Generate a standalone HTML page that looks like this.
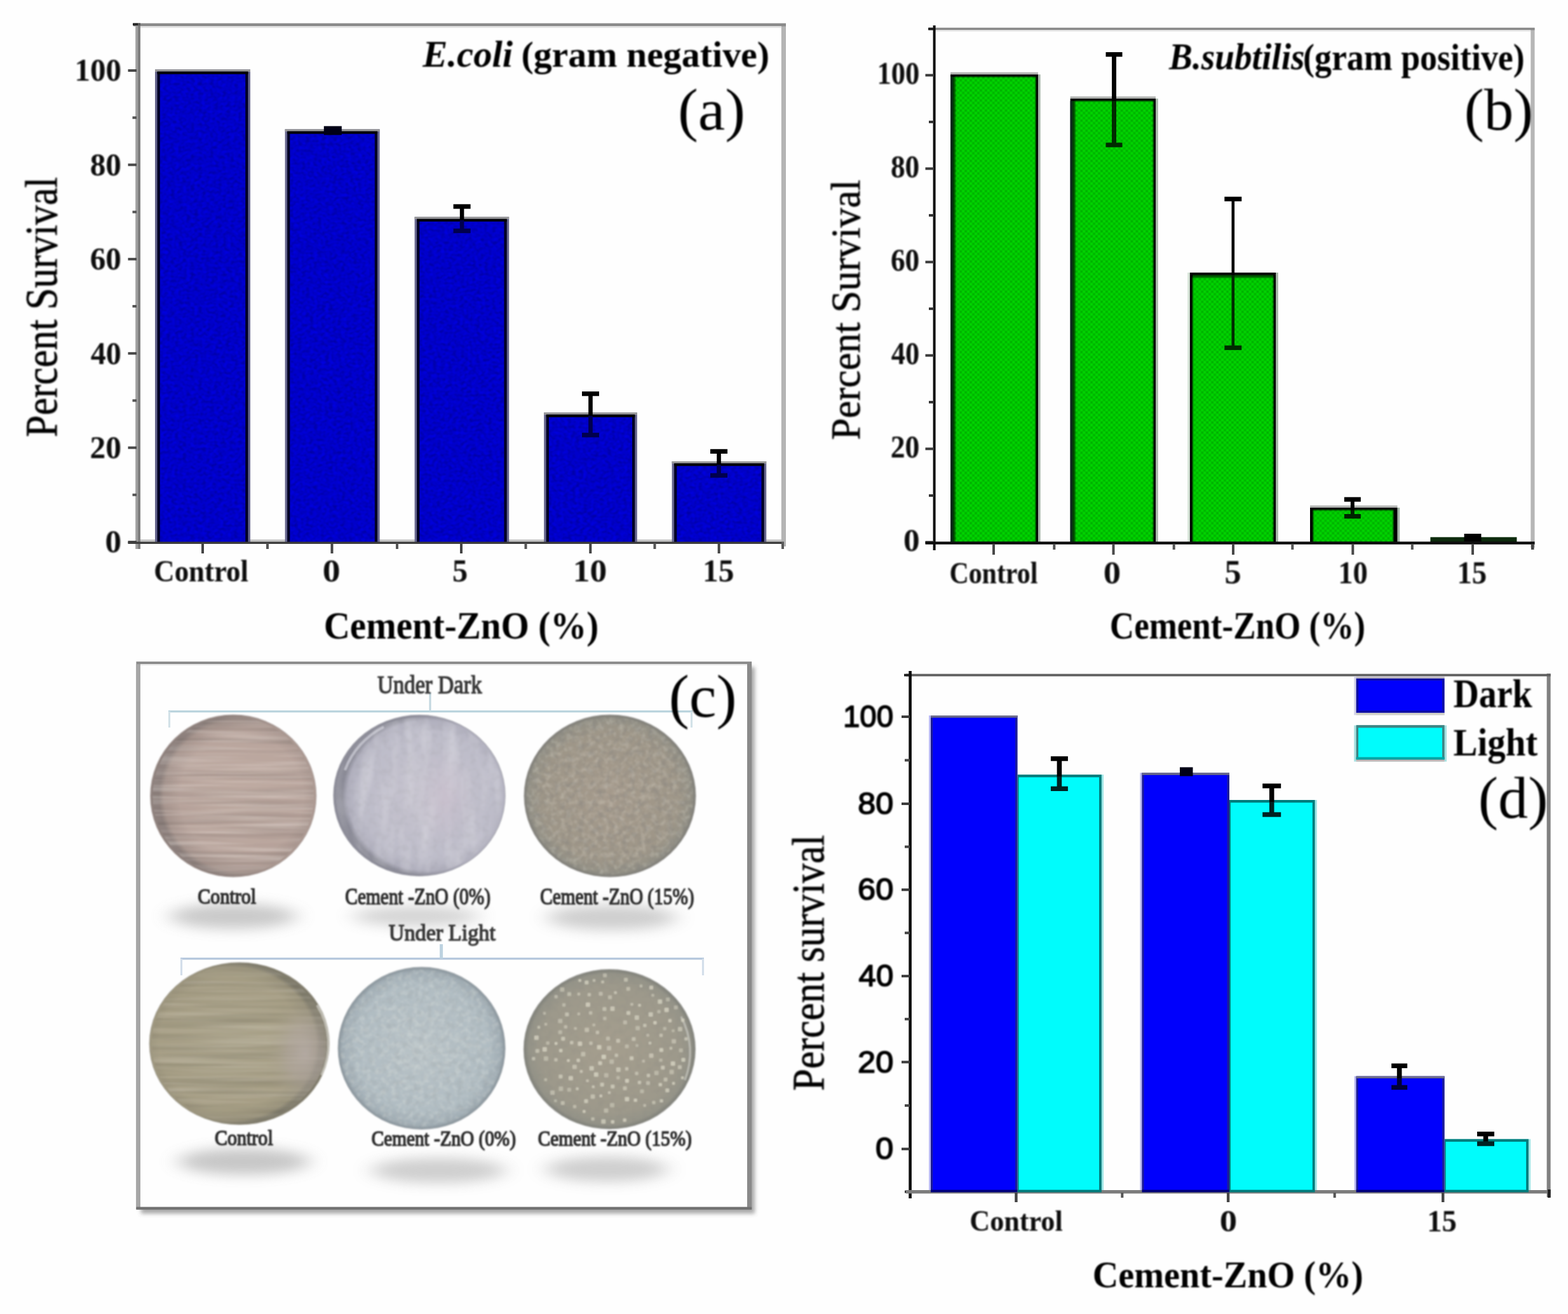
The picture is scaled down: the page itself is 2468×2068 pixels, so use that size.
<!DOCTYPE html>
<html lang="en"><head><meta charset="utf-8"><title>Antibacterial activity of Cement-ZnO</title>
<style>
html,body{margin:0;padding:0;background:#fff;}
body{width:2468px;height:2068px;overflow:hidden;}
svg{display:block;}
text{white-space:pre;}
</style></head>
<body>
<svg width="2468" height="2068" viewBox="0 0 2468 2068">
<defs>
<filter id="soft" x="0" y="0" width="100%" height="100%" filterUnits="userSpaceOnUse"><feGaussianBlur stdDeviation="0.6"/></filter>
<filter id="softT" x="0" y="0" width="100%" height="100%" filterUnits="userSpaceOnUse"><feGaussianBlur stdDeviation="1.0"/></filter>
<filter id="softD" x="0" y="0" width="100%" height="100%" filterUnits="userSpaceOnUse"><feGaussianBlur stdDeviation="1.0"/></filter>
<filter id="soft2" x="0" y="0" width="100%" height="100%" filterUnits="userSpaceOnUse"><feGaussianBlur stdDeviation="0.85"/></filter>
<pattern id="hatch" width="7.92" height="7.92" patternUnits="userSpaceOnUse" x="1530" y="401.7">
  <rect width="7.92" height="7.92" fill="#00e000"/>
  <rect x="3.96" y="0" width="3.96" height="3.96" fill="#00a400"/>
  <rect x="0" y="3.96" width="3.96" height="3.96" fill="#00a800"/>
</pattern>
<filter id="shadow" x="-40%" y="-100%" width="180%" height="300%"><feGaussianBlur stdDeviation="16 10"/></filter>
<filter id="fshadow" x="-5%" y="-5%" width="110%" height="110%"><feGaussianBlur stdDeviation="3.2"/></filter>
<filter id="nzH" x="0" y="0" width="100%" height="100%">
  <feTurbulence type="fractalNoise" baseFrequency="0.004 0.11" numOctaves="2" seed="3" result="n"/>
  <feColorMatrix in="n" type="matrix" values="0 0 0 0 0  0 0 0 0 0  0 0 0 0 0  1.6 0 0 0 -0.62"/>
  <feComposite in2="SourceGraphic" operator="in"/>
</filter>
<filter id="nzHl" x="0" y="0" width="100%" height="100%">
  <feTurbulence type="fractalNoise" baseFrequency="0.006 0.16" numOctaves="2" seed="21" result="n"/>
  <feColorMatrix in="n" type="matrix" values="0 0 0 0 1  0 0 0 0 0.96  0 0 0 0 0.92  1.8 0 0 0 -0.72"/>
  <feComposite in2="SourceGraphic" operator="in"/>
</filter>
<radialGradient id="g2p" cx="0.5" cy="0.5" r="0.5"><stop offset="0" stop-color="#c9bccb" stop-opacity="0.7"/><stop offset="1" stop-color="#c0b8c8" stop-opacity="0"/></radialGradient>
<filter id="nzB" x="0" y="0" width="100%" height="100%">
  <feTurbulence type="fractalNoise" baseFrequency="0.16 0.2" numOctaves="1" seed="4" result="n"/>
  <feColorMatrix in="n" type="matrix" values="0 0 0 0 0  0 0 0 0 0  0 0 0 0 0.25  2.6 0 0 0 -1.05"/>
  <feComposite in2="SourceGraphic" operator="in"/>
</filter>
<filter id="nzBl" x="0" y="0" width="100%" height="100%">
  <feTurbulence type="fractalNoise" baseFrequency="0.17 0.19" numOctaves="1" seed="19" result="n"/>
  <feColorMatrix in="n" type="matrix" values="0 0 0 0 0  0 0 0 0 0  0 0 0 0 1  2.6 0 0 0 -1.1"/>
  <feComposite in2="SourceGraphic" operator="in"/>
</filter>
<filter id="nzV" x="0" y="0" width="100%" height="100%">
  <feTurbulence type="fractalNoise" baseFrequency="0.05 0.012" numOctaves="2" seed="8" result="n"/>
  <feColorMatrix in="n" type="matrix" values="0 0 0 0 1  0 0 0 0 1  0 0 0 0 1  1.8 0 0 0 -0.7"/>
  <feComposite in2="SourceGraphic" operator="in"/>
</filter>
<filter id="nzF" x="0" y="0" width="100%" height="100%">
  <feTurbulence type="fractalNoise" baseFrequency="0.12" numOctaves="2" seed="5" result="n"/>
  <feColorMatrix in="n" type="matrix" values="0 0 0 0 1  0 0 0 0 1  0 0 0 0 0.9  2.4 0 0 0 -1.0"/>
  <feComposite in2="SourceGraphic" operator="in"/>
</filter>
<filter id="nzFd" x="0" y="0" width="100%" height="100%">
  <feTurbulence type="fractalNoise" baseFrequency="0.1" numOctaves="2" seed="11" result="n"/>
  <feColorMatrix in="n" type="matrix" values="0 0 0 0 0.2  0 0 0 0 0.2  0 0 0 0 0.2  2.2 0 0 0 -0.95"/>
  <feComposite in2="SourceGraphic" operator="in"/>
</filter>
<radialGradient id="g1" cx="0.55" cy="0.5" r="0.5"><stop offset="0" stop-color="#c0aca3"/><stop offset="0.75" stop-color="#b9a59d"/><stop offset="0.94" stop-color="#a8968f"/><stop offset="1" stop-color="#8e817d"/></radialGradient>
<radialGradient id="g2" cx="0.55" cy="0.5" r="0.5"><stop offset="0" stop-color="#c7c4cf"/><stop offset="0.8" stop-color="#bdbcc9"/><stop offset="0.94" stop-color="#b0afbd"/><stop offset="1" stop-color="#8c8c98"/></radialGradient>
<radialGradient id="g3" cx="0.5" cy="0.5" r="0.5"><stop offset="0" stop-color="#a59a8c"/><stop offset="0.8" stop-color="#9e9688"/><stop offset="0.95" stop-color="#949186"/><stop offset="1" stop-color="#7f7e78"/></radialGradient>
<radialGradient id="g4" cx="0.45" cy="0.5" r="0.5"><stop offset="0" stop-color="#aaa38b"/><stop offset="0.8" stop-color="#a69e85"/><stop offset="0.95" stop-color="#9a937c"/><stop offset="1" stop-color="#807c6c"/></radialGradient>
<radialGradient id="g5" cx="0.5" cy="0.5" r="0.5"><stop offset="0" stop-color="#b9c3c7"/><stop offset="0.8" stop-color="#b0bcc2"/><stop offset="0.95" stop-color="#a2aeb5"/><stop offset="1" stop-color="#8a959c"/></radialGradient>
<radialGradient id="g6" cx="0.5" cy="0.5" r="0.5"><stop offset="0" stop-color="#a59e8e"/><stop offset="0.8" stop-color="#9d998b"/><stop offset="0.95" stop-color="#949388"/><stop offset="1" stop-color="#7f8079"/></radialGradient>
<radialGradient id="g4p" cx="0.55" cy="0.5" r="0.5"><stop offset="0" stop-color="#b6aca8" stop-opacity="0.9"/><stop offset="0.45" stop-color="#b0a6a0" stop-opacity="0.6"/><stop offset="1" stop-color="#a69f88" stop-opacity="0"/></radialGradient>
</defs>
<rect width="2468" height="2068" fill="#fefefe"/>
<g filter="url(#soft)">
<rect x="1229.80" y="37.00" width="7.20" height="823.00" fill="#b4b4b4"/>
<rect x="210.00" y="36.60" width="1027.00" height="4.80" fill="#8a8a8a"/>
<rect x="221.00" y="41.40" width="1009.00" height="2.60" fill="#e4e4e4"/>
<rect x="213.20" y="36.60" width="3.80" height="827.40" fill="#a0a0a0"/>
<rect x="217.00" y="36.60" width="4.00" height="827.40" fill="#7e7e7e"/>
<rect x="201.50" y="851.00" width="13.50" height="4.00" fill="#4a4a4a"/>
<rect x="201.50" y="702.60" width="13.50" height="4.00" fill="#4a4a4a"/>
<rect x="201.50" y="554.20" width="13.50" height="4.00" fill="#4a4a4a"/>
<rect x="201.50" y="405.80" width="13.50" height="4.00" fill="#4a4a4a"/>
<rect x="201.50" y="257.40" width="13.50" height="4.00" fill="#4a4a4a"/>
<rect x="201.50" y="109.00" width="13.50" height="4.00" fill="#4a4a4a"/>
<rect x="208.50" y="776.80" width="6.50" height="4.00" fill="#555"/>
<rect x="208.50" y="628.40" width="6.50" height="4.00" fill="#555"/>
<rect x="208.50" y="480.00" width="6.50" height="4.00" fill="#555"/>
<rect x="208.50" y="331.60" width="6.50" height="4.00" fill="#555"/>
<rect x="208.50" y="183.20" width="6.50" height="4.00" fill="#555"/>
<rect x="209.00" y="36.40" width="8.00" height="3.80" fill="#262626"/>
<rect x="217.00" y="36.40" width="4.00" height="3.80" fill="#585858"/>
<rect x="221.00" y="849.00" width="1009.00" height="4.00" fill="#c6c6c6"/>
<rect x="244.00" y="109.30" width="150.00" height="743.70" fill="#66668e"/>
<rect x="244.00" y="109.30" width="150.00" height="3.60" fill="#9a9a9a"/>
<rect x="247.50" y="112.70" width="143.00" height="740.30" fill="#000028"/>
<rect x="247.50" y="112.70" width="143.00" height="4.00" fill="#000004"/>
<rect x="251.80" y="116.70" width="134.40" height="736.30" fill="#0000ca"/>
<rect x="252.0" y="117.3" width="134.0" height="735.7" fill="#000" opacity="0.5" filter="url(#nzB)"/>
<rect x="252.0" y="117.3" width="134.0" height="735.7" fill="#000" opacity="0.4" filter="url(#nzBl)"/>
<rect x="448.60" y="203.30" width="149.00" height="649.70" fill="#66668e"/>
<rect x="448.60" y="203.30" width="149.00" height="3.60" fill="#9a9a9a"/>
<rect x="452.10" y="206.70" width="142.00" height="646.30" fill="#000028"/>
<rect x="452.10" y="206.70" width="142.00" height="4.00" fill="#000004"/>
<rect x="456.40" y="210.70" width="133.40" height="642.30" fill="#0000ca"/>
<rect x="456.6" y="211.3" width="133.0" height="641.7" fill="#000" opacity="0.5" filter="url(#nzB)"/>
<rect x="456.6" y="211.3" width="133.0" height="641.7" fill="#000" opacity="0.4" filter="url(#nzBl)"/>
<rect x="652.60" y="341.30" width="148.60" height="511.70" fill="#66668e"/>
<rect x="652.60" y="341.30" width="148.60" height="3.60" fill="#9a9a9a"/>
<rect x="656.10" y="344.70" width="141.60" height="508.30" fill="#000028"/>
<rect x="656.10" y="344.70" width="141.60" height="4.00" fill="#000004"/>
<rect x="660.40" y="348.70" width="133.00" height="504.30" fill="#0000ca"/>
<rect x="660.6" y="349.3" width="132.6" height="503.7" fill="#000" opacity="0.5" filter="url(#nzB)"/>
<rect x="660.6" y="349.3" width="132.6" height="503.7" fill="#000" opacity="0.4" filter="url(#nzBl)"/>
<rect x="856.20" y="649.20" width="146.60" height="203.80" fill="#66668e"/>
<rect x="856.20" y="649.20" width="146.60" height="3.60" fill="#9a9a9a"/>
<rect x="859.70" y="652.60" width="139.60" height="200.40" fill="#000028"/>
<rect x="859.70" y="652.60" width="139.60" height="4.00" fill="#000004"/>
<rect x="864.00" y="656.60" width="131.00" height="196.40" fill="#0000ca"/>
<rect x="864.2" y="657.2" width="130.6" height="195.8" fill="#000" opacity="0.5" filter="url(#nzB)"/>
<rect x="864.2" y="657.2" width="130.6" height="195.8" fill="#000" opacity="0.4" filter="url(#nzBl)"/>
<rect x="1057.60" y="726.00" width="148.60" height="127.00" fill="#66668e"/>
<rect x="1057.60" y="726.00" width="148.60" height="3.60" fill="#9a9a9a"/>
<rect x="1061.10" y="729.40" width="141.60" height="123.60" fill="#000028"/>
<rect x="1061.10" y="729.40" width="141.60" height="4.00" fill="#000004"/>
<rect x="1065.40" y="733.40" width="133.00" height="119.60" fill="#0000ca"/>
<rect x="1065.6" y="734.0" width="132.6" height="119.0" fill="#000" opacity="0.5" filter="url(#nzB)"/>
<rect x="1065.6" y="734.0" width="132.6" height="119.0" fill="#000" opacity="0.4" filter="url(#nzBl)"/>
<rect x="201.50" y="852.60" width="1032.50" height="3.40" fill="#3c3c3c"/>
<rect x="317.00" y="855.00" width="4.00" height="16.00" fill="#444"/>
<rect x="520.50" y="855.00" width="4.00" height="16.00" fill="#444"/>
<rect x="724.00" y="855.00" width="4.00" height="16.00" fill="#444"/>
<rect x="927.30" y="855.00" width="4.00" height="16.00" fill="#444"/>
<rect x="1129.60" y="855.00" width="4.00" height="16.00" fill="#444"/>
<rect x="419.00" y="855.00" width="4.00" height="9.00" fill="#555"/>
<rect x="623.00" y="855.00" width="4.00" height="9.00" fill="#555"/>
<rect x="825.50" y="855.00" width="4.00" height="9.00" fill="#555"/>
<rect x="1028.50" y="855.00" width="4.00" height="9.00" fill="#555"/>
<rect x="1230.00" y="853.00" width="4.00" height="11.00" fill="#5a5a5a"/>
<rect x="509.80" y="198.50" width="28.00" height="14.00" fill="#000018"/>
<rect x="723.80" y="325.00" width="6.60" height="21.50" fill="#000"/>
<rect x="723.80" y="346.50" width="6.60" height="16.80" fill="#00004e"/>
<rect x="713.60" y="359.70" width="27.00" height="7.20" fill="#00004e"/>
<rect x="713.60" y="321.40" width="27.00" height="7.20" fill="#000"/>
<rect x="926.20" y="619.70" width="6.60" height="34.80" fill="#000"/>
<rect x="926.20" y="654.50" width="6.60" height="30.20" fill="#00004e"/>
<rect x="916.00" y="681.10" width="27.00" height="7.20" fill="#00004e"/>
<rect x="916.00" y="616.10" width="27.00" height="7.20" fill="#000"/>
<rect x="1128.20" y="710.40" width="6.60" height="21.10" fill="#000"/>
<rect x="1128.20" y="731.50" width="6.60" height="16.70" fill="#00004e"/>
<rect x="1118.00" y="744.60" width="27.00" height="7.20" fill="#00004e"/>
<rect x="1118.00" y="706.80" width="27.00" height="7.20" fill="#000"/>
<rect x="2409.30" y="44.00" width="6.20" height="818.00" fill="#b6b6b6"/>
<rect x="1462.00" y="43.60" width="953.50" height="3.80" fill="#888"/>
<rect x="1473.00" y="47.40" width="936.00" height="2.20" fill="#e6e6e6"/>
<rect x="1468.60" y="40.00" width="4.00" height="826.00" fill="#101010"/>
<rect x="1461.00" y="43.60" width="8.00" height="3.80" fill="#1c1c1c"/>
<rect x="1456.50" y="851.40" width="13.50" height="4.00" fill="#3a3a3a"/>
<rect x="1456.50" y="704.40" width="13.50" height="4.00" fill="#3a3a3a"/>
<rect x="1456.50" y="557.40" width="13.50" height="4.00" fill="#3a3a3a"/>
<rect x="1456.50" y="410.40" width="13.50" height="4.00" fill="#3a3a3a"/>
<rect x="1456.50" y="263.40" width="13.50" height="4.00" fill="#3a3a3a"/>
<rect x="1456.50" y="116.40" width="13.50" height="4.00" fill="#3a3a3a"/>
<rect x="1462.00" y="777.90" width="8.00" height="4.00" fill="#333"/>
<rect x="1462.00" y="630.90" width="8.00" height="4.00" fill="#333"/>
<rect x="1462.00" y="483.90" width="8.00" height="4.00" fill="#333"/>
<rect x="1462.00" y="336.90" width="8.00" height="4.00" fill="#333"/>
<rect x="1462.00" y="189.90" width="8.00" height="4.00" fill="#333"/>
<rect x="1496.00" y="113.70" width="137.90" height="3.50" fill="#b2b4b2"/>
<rect x="1633.90" y="117.20" width="3.70" height="736.20" fill="#a6b6a8"/>
<rect x="1496.00" y="117.20" width="137.90" height="736.20" fill="#000400"/>
<rect x="1499.40" y="121.00" width="3.80" height="732.40" fill="#004000"/>
<rect x="1496.00" y="121.00" width="3.40" height="732.40" fill="#0c2c1c"/>
<rect x="1684.60" y="151.70" width="134.40" height="3.50" fill="#b2b4b2"/>
<rect x="1819.00" y="155.20" width="3.70" height="698.20" fill="#a6b6a8"/>
<rect x="1684.60" y="155.20" width="134.40" height="698.20" fill="#000400"/>
<rect x="1688.00" y="159.00" width="3.90" height="694.40" fill="#004000"/>
<rect x="1684.60" y="159.00" width="3.40" height="694.40" fill="#0c2c1c"/>
<rect x="2008.10" y="429.00" width="3.70" height="424.40" fill="#a6b6a8"/>
<rect x="1869.20" y="429.00" width="3.70" height="424.40" fill="#d6e4d8"/>
<rect x="1872.90" y="429.00" width="135.20" height="424.40" fill="#000400"/>
<rect x="1877.20" y="432.80" width="127.00" height="3.60" fill="#004a00"/>
<rect x="2062.00" y="795.50" width="137.50" height="3.50" fill="#b2b4b2"/>
<rect x="2199.50" y="799.00" width="3.70" height="54.40" fill="#a6b6a8"/>
<rect x="2062.00" y="799.00" width="137.50" height="54.40" fill="#000400"/>
</g><g filter="url(#soft2)">
<rect x="1503.20" y="121.10" width="126.90" height="732.30" fill="url(#hatch)"/>
<rect x="1691.90" y="159.10" width="123.30" height="694.30" fill="url(#hatch)"/>
<rect x="1877.20" y="436.40" width="127.00" height="417.00" fill="url(#hatch)"/>
<rect x="2066.90" y="802.90" width="126.00" height="50.50" fill="url(#hatch)"/>
</g><g filter="url(#soft)">
<rect x="2251.40" y="845.40" width="136.00" height="7.60" fill="#0a2a0a"/>
<rect x="2304.60" y="840.00" width="26.80" height="14.00" fill="#000"/>
<rect x="1456.50" y="852.40" width="959.00" height="4.40" fill="#0c0c0c"/>
<rect x="1562.00" y="856.00" width="4.00" height="17.00" fill="#4a4a4a"/>
<rect x="1750.50" y="856.00" width="4.00" height="17.00" fill="#4a4a4a"/>
<rect x="1939.00" y="856.00" width="4.00" height="17.00" fill="#4a4a4a"/>
<rect x="2127.30" y="856.00" width="4.00" height="17.00" fill="#4a4a4a"/>
<rect x="2316.00" y="856.00" width="4.00" height="17.00" fill="#4a4a4a"/>
<rect x="1657.30" y="856.00" width="4.00" height="9.00" fill="#555"/>
<rect x="1845.70" y="856.00" width="4.00" height="9.00" fill="#555"/>
<rect x="2032.30" y="856.00" width="4.00" height="9.00" fill="#555"/>
<rect x="2220.80" y="856.00" width="4.00" height="9.00" fill="#555"/>
<rect x="2410.00" y="856.00" width="4.50" height="9.00" fill="#444"/>
<rect x="1750.00" y="85.70" width="7.00" height="73.30" fill="#000"/>
<rect x="1750.00" y="159.00" width="7.00" height="69.10" fill="#002c00"/>
<rect x="1740.50" y="224.50" width="26.00" height="7.20" fill="#002c00"/>
<rect x="1740.50" y="82.10" width="26.00" height="7.20" fill="#000"/>
<rect x="1938.50" y="313.20" width="4.60" height="119.80" fill="#000"/>
<rect x="1938.50" y="433.00" width="4.60" height="114.30" fill="#002c00"/>
<rect x="1927.30" y="543.70" width="27.00" height="7.20" fill="#002c00"/>
<rect x="1927.30" y="309.60" width="27.00" height="7.20" fill="#000"/>
<rect x="2125.80" y="786.00" width="6.00" height="17.00" fill="#000"/>
<rect x="2125.80" y="803.00" width="6.00" height="9.60" fill="#002400"/>
<rect x="2115.80" y="809.00" width="26.00" height="7.20" fill="#002400"/>
<rect x="2115.80" y="782.40" width="26.00" height="7.20" fill="#000"/>
<rect x="2434.60" y="1060.00" width="6.00" height="824.00" fill="#808080"/>
<rect x="1426.00" y="1060.60" width="1014.60" height="3.80" fill="#5e5e5e"/>
<rect x="1430.30" y="1056.00" width="4.60" height="830.00" fill="#0c0c0c"/>
<rect x="1423.00" y="1060.60" width="8.00" height="3.80" fill="#1c1c1c"/>
<rect x="1419.00" y="1806.30" width="13.00" height="4.00" fill="#3a3a3a"/>
<rect x="1419.00" y="1669.50" width="13.00" height="4.00" fill="#3a3a3a"/>
<rect x="1419.00" y="1534.20" width="13.00" height="4.00" fill="#3a3a3a"/>
<rect x="1419.00" y="1398.30" width="13.00" height="4.00" fill="#3a3a3a"/>
<rect x="1419.00" y="1263.00" width="13.00" height="4.00" fill="#3a3a3a"/>
<rect x="1419.00" y="1126.00" width="13.00" height="4.00" fill="#3a3a3a"/>
<rect x="1424.00" y="1737.90" width="8.00" height="4.00" fill="#444"/>
<rect x="1424.00" y="1601.85" width="8.00" height="4.00" fill="#444"/>
<rect x="1424.00" y="1466.25" width="8.00" height="4.00" fill="#444"/>
<rect x="1424.00" y="1330.65" width="8.00" height="4.00" fill="#444"/>
<rect x="1424.00" y="1194.50" width="8.00" height="4.00" fill="#444"/>
<rect x="1424.00" y="1873.60" width="8.00" height="4.00" fill="#333"/>
<rect x="1601.50" y="1219.10" width="135.50" height="656.50" fill="#9fe6e6"/>
<rect x="1601.50" y="1219.10" width="132.30" height="656.50" fill="#067c7c"/>
<rect x="1603.50" y="1223.30" width="126.50" height="652.30" fill="#00fcfc"/>
<rect x="1935.00" y="1259.00" width="137.80" height="616.60" fill="#9fe6e6"/>
<rect x="1935.00" y="1259.00" width="134.60" height="616.60" fill="#067c7c"/>
<rect x="1937.00" y="1263.20" width="128.80" height="612.40" fill="#00fcfc"/>
<rect x="2273.60" y="1792.70" width="135.50" height="82.90" fill="#9fe6e6"/>
<rect x="2273.60" y="1792.70" width="132.30" height="82.90" fill="#067c7c"/>
<rect x="2275.60" y="1796.90" width="126.50" height="78.70" fill="#00fcfc"/>
<rect x="1462.00" y="1126.00" width="139.50" height="749.60" fill="#b9b9f3"/>
<rect x="1465.00" y="1126.00" width="136.50" height="749.60" fill="#1a1a96"/>
<rect x="1468.00" y="1129.60" width="130.10" height="746.00" fill="#0000fc"/>
<rect x="1465.00" y="1126.00" width="136.50" height="3.40" fill="#6d6d8c"/>
<rect x="1794.40" y="1216.20" width="140.60" height="659.40" fill="#b9b9f3"/>
<rect x="1797.40" y="1216.20" width="137.60" height="659.40" fill="#1a1a96"/>
<rect x="1800.40" y="1219.80" width="131.20" height="655.80" fill="#0000fc"/>
<rect x="1797.40" y="1216.20" width="137.60" height="3.40" fill="#6d6d8c"/>
<rect x="2131.60" y="1693.70" width="142.00" height="181.90" fill="#b9b9f3"/>
<rect x="2134.60" y="1693.70" width="139.00" height="181.90" fill="#1a1a96"/>
<rect x="2137.60" y="1697.30" width="132.60" height="178.30" fill="#0000fc"/>
<rect x="2134.60" y="1693.70" width="139.00" height="3.40" fill="#6d6d8c"/>
<rect x="1426.00" y="1873.00" width="1014.60" height="5.40" fill="#7c7c7c"/>
<rect x="1465.00" y="1872.60" width="136.50" height="3.80" fill="#00007a"/>
<rect x="1797.40" y="1872.60" width="137.60" height="3.80" fill="#00007a"/>
<rect x="2134.60" y="1872.60" width="139.00" height="3.80" fill="#00007a"/>
<rect x="1601.50" y="1872.60" width="132.30" height="3.80" fill="#007a7a"/>
<rect x="1935.00" y="1872.60" width="134.60" height="3.80" fill="#007a7a"/>
<rect x="2273.60" y="1872.60" width="132.30" height="3.80" fill="#007a7a"/>
<rect x="1597.20" y="1877.00" width="4.40" height="15.00" fill="#444"/>
<rect x="1930.90" y="1877.00" width="4.40" height="15.00" fill="#444"/>
<rect x="2269.00" y="1877.00" width="4.40" height="15.00" fill="#444"/>
<rect x="1764.30" y="1877.00" width="4.00" height="8.00" fill="#555"/>
<rect x="2098.70" y="1877.00" width="4.00" height="8.00" fill="#555"/>
<rect x="2436.00" y="1872.00" width="4.60" height="13.00" fill="#222"/>
<rect x="1663.60" y="1194.00" width="7.60" height="28.00" fill="#000"/>
<rect x="1663.60" y="1222.00" width="7.60" height="19.30" fill="#002020"/>
<rect x="1653.90" y="1237.60" width="27.00" height="7.40" fill="#002020"/>
<rect x="1653.90" y="1190.30" width="27.00" height="7.40" fill="#000"/>
<rect x="1857.00" y="1207.50" width="20.50" height="14.00" fill="#000014"/>
<rect x="1997.90" y="1236.90" width="7.60" height="25.10" fill="#000"/>
<rect x="1997.90" y="1262.00" width="7.60" height="20.00" fill="#002020"/>
<rect x="1987.20" y="1278.30" width="29.00" height="7.40" fill="#002020"/>
<rect x="1987.20" y="1233.20" width="29.00" height="7.40" fill="#000"/>
<rect x="2198.80" y="1677.40" width="7.60" height="19.60" fill="#000"/>
<rect x="2198.80" y="1697.00" width="7.60" height="14.40" fill="#000038"/>
<rect x="2190.10" y="1707.70" width="25.00" height="7.40" fill="#000038"/>
<rect x="2190.10" y="1673.70" width="25.00" height="7.40" fill="#000"/>
<rect x="2334.70" y="1784.70" width="7.60" height="11.30" fill="#000"/>
<rect x="2334.70" y="1796.00" width="7.60" height="4.00" fill="#002020"/>
<rect x="2325.00" y="1796.30" width="27.00" height="7.40" fill="#002020"/>
<rect x="2325.00" y="1781.00" width="27.00" height="7.40" fill="#000"/>
<rect x="2131.20" y="1064.60" width="142.40" height="60.80" fill="#d4d4ea"/>
<rect x="2134.60" y="1064.60" width="139.00" height="3.40" fill="#c0bcc4"/>
<rect x="2134.60" y="1121.60" width="139.00" height="3.80" fill="#d2d2c8"/>
<rect x="2134.60" y="1067.80" width="139.00" height="54.00" fill="#0a0aa4"/>
<rect x="2138.20" y="1071.00" width="131.80" height="47.20" fill="#0000fc"/>
<rect x="2131.20" y="1141.60" width="145.80" height="57.00" fill="#a8e2e2"/>
<rect x="2134.60" y="1195.00" width="139.00" height="3.60" fill="#c6b8b8"/>
<rect x="2134.60" y="1141.20" width="139.00" height="54.20" fill="#3c8484"/>
<rect x="2134.60" y="1191.40" width="139.00" height="4.00" fill="#00a4a4"/>
<rect x="2138.00" y="1145.40" width="132.00" height="46.20" fill="#00fcfc"/>
<rect x="222" y="1050" width="966" height="860" fill="#8c8c8c" opacity="0.75" filter="url(#fshadow)"/>
<rect x="214.40" y="1041.20" width="968.80" height="862.40" fill="#8a8a8a"/>
<rect x="214.40" y="1045.20" width="6.60" height="854.40" fill="#a6a6a6"/>
<rect x="214.40" y="1899.60" width="968.80" height="4.00" fill="#707070"/>
<rect x="221.00" y="1045.20" width="955.00" height="854.20" fill="#fefefe"/>
<rect x="221.00" y="1045.20" width="955.00" height="2.00" fill="#e6e6e6"/>
<rect x="265.00" y="1118.10" width="825.00" height="3.20" fill="#b9d3dd"/>
<rect x="264.90" y="1119.70" width="3.20" height="25.30" fill="#d3e2e8"/>
<rect x="1086.90" y="1119.70" width="3.20" height="25.30" fill="#d3e2e8"/>
<rect x="675.40" y="1090.00" width="3.20" height="29.70" fill="#c3d8e0"/>
<rect x="284.00" y="1507.20" width="824.00" height="3.20" fill="#b4c6dc"/>
<rect x="283.90" y="1508.80" width="3.20" height="26.20" fill="#d3deea"/>
<rect x="1104.90" y="1508.80" width="3.20" height="26.20" fill="#d3deea"/>
<rect x="692.10" y="1486.00" width="5.00" height="22.80" fill="#bdd2e0"/>
<ellipse cx="367" cy="1442" rx="100" ry="20" fill="#7a7a7a" opacity="0.4" filter="url(#shadow)"/>
<ellipse cx="655" cy="1442" rx="100" ry="16" fill="#7a7a7a" opacity="0.32" filter="url(#shadow)"/>
<ellipse cx="963" cy="1444" rx="102" ry="20" fill="#7a7a7a" opacity="0.36" filter="url(#shadow)"/>
<ellipse cx="384" cy="1828" rx="104" ry="21" fill="#7a7a7a" opacity="0.42" filter="url(#shadow)"/>
<ellipse cx="690" cy="1842" rx="106" ry="20" fill="#7a7a7a" opacity="0.36" filter="url(#shadow)"/>
<ellipse cx="955" cy="1840" rx="96" ry="20" fill="#7a7a7a" opacity="0.36" filter="url(#shadow)"/>
</g><g filter="url(#softD)">
<ellipse cx="367.2" cy="1252.6" rx="131.2" ry="128.2" fill="#9a8c88" opacity="0.7"/>
<ellipse cx="367.2" cy="1252.6" rx="130" ry="127" fill="url(#g1)"/>
<ellipse cx="367.2" cy="1252.6" rx="127" ry="124" fill="#000" opacity="0.16" filter="url(#nzH)"/>
<ellipse cx="367.2" cy="1252.6" rx="127" ry="124" fill="#000" opacity="0.35" filter="url(#nzHl)"/>
<ellipse cx="660" cy="1252" rx="135.7" ry="127.2" fill="#7e7e8a" opacity="0.7"/>
<ellipse cx="660" cy="1252" rx="134.5" ry="126" fill="url(#g2)"/>
<ellipse cx="660" cy="1252" rx="131.5" ry="123" fill="#000" opacity="0.3" filter="url(#nzV)"/>
<ellipse cx="660" cy="1252" rx="131.5" ry="123" fill="#000" opacity="0.1" filter="url(#nzFd)"/>
<ellipse cx="700" cy="1255" rx="46" ry="80" fill="url(#g2p)" opacity="0.8"/>
<ellipse cx="960" cy="1252.6" rx="135.7" ry="128.2" fill="#8a8984" opacity="0.7"/>
<ellipse cx="960" cy="1252.6" rx="134.5" ry="127" fill="url(#g3)"/>
<ellipse cx="960" cy="1252.6" rx="131.5" ry="124" fill="#000" opacity="0.2" filter="url(#nzF)"/>
<ellipse cx="960" cy="1252.6" rx="131.5" ry="124" fill="#000" opacity="0.36" filter="url(#nzFd)"/>
<ellipse cx="376.8" cy="1642.4" rx="142.2" ry="128.2" fill="#8b8878" opacity="0.7"/>
<ellipse cx="376.8" cy="1642.4" rx="141" ry="127" fill="url(#g4)"/>
<ellipse cx="376.8" cy="1642.4" rx="138" ry="124" fill="#000" opacity="0.12" filter="url(#nzH)"/>
<ellipse cx="376.8" cy="1642.4" rx="138" ry="124" fill="#000" opacity="0.2" filter="url(#nzHl)"/>
<clipPath id="c4"><ellipse cx="376.8" cy="1642.4" rx="138" ry="124"/></clipPath>
<ellipse cx="474" cy="1658" rx="62" ry="92" fill="url(#g4p)" clip-path="url(#c4)" opacity="0.9"/>
<ellipse cx="663.6" cy="1649.8" rx="132.2" ry="128.2" fill="#8e979c" opacity="0.7"/>
<ellipse cx="663.6" cy="1649.8" rx="131" ry="127" fill="url(#g5)"/>
<ellipse cx="663.6" cy="1649.8" rx="128" ry="124" fill="#000" opacity="0.2" filter="url(#nzF)"/>
<ellipse cx="663.6" cy="1649.8" rx="128" ry="124" fill="#000" opacity="0.14" filter="url(#nzFd)"/>
<ellipse cx="959.4" cy="1651.2" rx="135.7" ry="126.2" fill="#8a8a84" opacity="0.7"/>
<ellipse cx="959.4" cy="1651.2" rx="134.5" ry="125" fill="url(#g6)"/>
<ellipse cx="959.4" cy="1651.2" rx="131.5" ry="122" fill="#000" opacity="0.12" filter="url(#nzFd)"/>
<path d="M543,1212 A132,124 0 0 1 604,1144" fill="none" stroke="#e6e6ee" stroke-width="4" opacity="0.55"/>
<path d="M499,1582 A139,125 0 0 1 506,1692" fill="none" stroke="#e4e2dc" stroke-width="3.5" opacity="0.6"/>
<path d="M1072,1600 A134,126 0 0 1 1078,1700" fill="none" stroke="#d2d2cc" stroke-width="3" opacity="0.6"/>
<rect x="934.9" y="1687.8" width="6.8" height="6.8" rx="1.2" fill="#d6d3c2" opacity="0.82"/>
<rect x="937.8" y="1622.3" width="5.2" height="5.2" rx="1.2" fill="#d6d3c2" opacity="0.67"/>
<rect x="883.3" y="1631.7" width="6.0" height="6.0" rx="1.2" fill="#d6d3c2" opacity="0.75"/>
<rect x="1040.3" y="1677.3" width="6.0" height="6.0" rx="1.2" fill="#d6d3c2" opacity="0.74"/>
<rect x="1037.5" y="1665.9" width="5.2" height="5.2" rx="1.2" fill="#d6d3c2" opacity="0.50"/>
<rect x="991.1" y="1662.5" width="6.0" height="6.0" rx="1.2" fill="#d6d3c2" opacity="0.76"/>
<rect x="856.6" y="1697.0" width="4.4" height="4.4" rx="1.2" fill="#d6d3c2" opacity="0.57"/>
<rect x="999.5" y="1686.8" width="5.2" height="5.2" rx="1.2" fill="#d6d3c2" opacity="0.61"/>
<rect x="872.6" y="1566.0" width="5.2" height="5.2" rx="1.2" fill="#d6d3c2" opacity="0.58"/>
<rect x="887.7" y="1613.5" width="5.2" height="5.2" rx="1.2" fill="#d6d3c2" opacity="0.59"/>
<rect x="983.7" y="1643.7" width="6.0" height="6.0" rx="1.2" fill="#d6d3c2" opacity="0.54"/>
<rect x="999.0" y="1598.1" width="6.8" height="6.8" rx="1.2" fill="#d6d3c2" opacity="0.71"/>
<rect x="983.9" y="1679.6" width="5.2" height="5.2" rx="1.2" fill="#d6d3c2" opacity="0.67"/>
<rect x="917.2" y="1747.1" width="4.4" height="4.4" rx="1.2" fill="#d6d3c2" opacity="0.83"/>
<rect x="997.6" y="1728.9" width="5.2" height="5.2" rx="1.2" fill="#d6d3c2" opacity="0.82"/>
<rect x="908.7" y="1593.5" width="4.4" height="4.4" rx="1.2" fill="#d6d3c2" opacity="0.57"/>
<rect x="927.5" y="1639.2" width="5.2" height="5.2" rx="1.2" fill="#d6d3c2" opacity="0.65"/>
<rect x="1010.6" y="1667.8" width="4.4" height="4.4" rx="1.2" fill="#d6d3c2" opacity="0.56"/>
<rect x="922.0" y="1577.7" width="6.8" height="6.8" rx="1.2" fill="#d6d3c2" opacity="0.81"/>
<rect x="919.5" y="1730.0" width="6.0" height="6.0" rx="1.2" fill="#d6d3c2" opacity="0.76"/>
<rect x="892.3" y="1666.9" width="4.4" height="4.4" rx="1.2" fill="#d6d3c2" opacity="0.83"/>
<rect x="985.8" y="1553.3" width="6.0" height="6.0" rx="1.2" fill="#d6d3c2" opacity="0.57"/>
<rect x="960.1" y="1735.9" width="6.8" height="6.8" rx="1.2" fill="#d6d3c2" opacity="0.51"/>
<rect x="841.0" y="1629.8" width="6.8" height="6.8" rx="1.2" fill="#d6d3c2" opacity="0.79"/>
<rect x="948.4" y="1585.1" width="6.0" height="6.0" rx="1.2" fill="#d6d3c2" opacity="0.65"/>
<rect x="1000.4" y="1643.3" width="4.4" height="4.4" rx="1.2" fill="#d6d3c2" opacity="0.50"/>
<rect x="1007.5" y="1714.4" width="6.0" height="6.0" rx="1.2" fill="#d6d3c2" opacity="0.53"/>
<rect x="1055.8" y="1670.5" width="6.8" height="6.8" rx="1.2" fill="#d6d3c2" opacity="0.83"/>
<rect x="966.5" y="1560.0" width="4.4" height="4.4" rx="1.2" fill="#d6d3c2" opacity="0.70"/>
<rect x="924.9" y="1562.8" width="5.2" height="5.2" rx="1.2" fill="#d6d3c2" opacity="0.63"/>
<rect x="1022.1" y="1551.3" width="6.0" height="6.0" rx="1.2" fill="#d6d3c2" opacity="0.79"/>
<rect x="856.0" y="1662.6" width="6.8" height="6.8" rx="1.2" fill="#d6d3c2" opacity="0.53"/>
<rect x="1053.8" y="1683.6" width="6.8" height="6.8" rx="1.2" fill="#d6d3c2" opacity="0.57"/>
<rect x="881.5" y="1553.9" width="6.8" height="6.8" rx="1.2" fill="#d6d3c2" opacity="0.57"/>
<rect x="986.1" y="1591.3" width="6.0" height="6.0" rx="1.2" fill="#d6d3c2" opacity="0.76"/>
<rect x="879.5" y="1710.1" width="6.8" height="6.8" rx="1.2" fill="#d6d3c2" opacity="0.51"/>
<rect x="866.2" y="1716.3" width="6.8" height="6.8" rx="1.2" fill="#d6d3c2" opacity="0.59"/>
<rect x="1029.9" y="1685.2" width="6.8" height="6.8" rx="1.2" fill="#d6d3c2" opacity="0.51"/>
<rect x="845.9" y="1614.6" width="4.4" height="4.4" rx="1.2" fill="#d6d3c2" opacity="0.66"/>
<rect x="1006.8" y="1549.5" width="4.4" height="4.4" rx="1.2" fill="#d6d3c2" opacity="0.59"/>
<rect x="943.5" y="1722.6" width="4.4" height="4.4" rx="1.2" fill="#d6d3c2" opacity="0.81"/>
<rect x="882.7" y="1732.9" width="6.0" height="6.0" rx="1.2" fill="#d6d3c2" opacity="0.63"/>
<rect x="983.9" y="1698.0" width="6.0" height="6.0" rx="1.2" fill="#d6d3c2" opacity="0.84"/>
<rect x="903.5" y="1616.4" width="4.4" height="4.4" rx="1.2" fill="#d6d3c2" opacity="0.59"/>
<rect x="1037.9" y="1649.5" width="6.0" height="6.0" rx="1.2" fill="#d6d3c2" opacity="0.82"/>
<rect x="892.9" y="1712.1" width="6.0" height="6.0" rx="1.2" fill="#d6d3c2" opacity="0.50"/>
<rect x="1057.3" y="1620.0" width="4.4" height="4.4" rx="1.2" fill="#d6d3c2" opacity="0.51"/>
<rect x="859.6" y="1639.0" width="5.2" height="5.2" rx="1.2" fill="#d6d3c2" opacity="0.54"/>
<rect x="1045.8" y="1586.0" width="6.8" height="6.8" rx="1.2" fill="#d6d3c2" opacity="0.83"/>
<rect x="1035.4" y="1572.9" width="6.8" height="6.8" rx="1.2" fill="#d6d3c2" opacity="0.78"/>
<rect x="895.0" y="1693.4" width="6.8" height="6.8" rx="1.2" fill="#d6d3c2" opacity="0.79"/>
<rect x="1036.7" y="1704.4" width="5.2" height="5.2" rx="1.2" fill="#d6d3c2" opacity="0.82"/>
<rect x="970.3" y="1693.5" width="5.2" height="5.2" rx="1.2" fill="#d6d3c2" opacity="0.50"/>
<rect x="941.6" y="1670.2" width="6.0" height="6.0" rx="1.2" fill="#d6d3c2" opacity="0.79"/>
<rect x="1018.0" y="1690.0" width="5.2" height="5.2" rx="1.2" fill="#d6d3c2" opacity="0.71"/>
<rect x="1072.5" y="1665.0" width="6.0" height="6.0" rx="1.2" fill="#d6d3c2" opacity="0.80"/>
<rect x="920.3" y="1617.4" width="6.8" height="6.8" rx="1.2" fill="#d6d3c2" opacity="0.63"/>
<rect x="956.8" y="1717.4" width="4.4" height="4.4" rx="1.2" fill="#d6d3c2" opacity="0.68"/>
<rect x="927.8" y="1678.0" width="6.8" height="6.8" rx="1.2" fill="#d6d3c2" opacity="0.76"/>
<rect x="872.4" y="1665.2" width="5.2" height="5.2" rx="1.2" fill="#d6d3c2" opacity="0.64"/>
<rect x="922.4" y="1698.7" width="4.4" height="4.4" rx="1.2" fill="#d6d3c2" opacity="0.67"/>
<rect x="980.9" y="1606.1" width="6.0" height="6.0" rx="1.2" fill="#d6d3c2" opacity="0.56"/>
<rect x="909.5" y="1639.2" width="6.8" height="6.8" rx="1.2" fill="#d6d3c2" opacity="0.81"/>
<rect x="1012.5" y="1737.6" width="4.4" height="4.4" rx="1.2" fill="#d6d3c2" opacity="0.59"/>
<rect x="1025.3" y="1564.2" width="4.4" height="4.4" rx="1.2" fill="#d6d3c2" opacity="0.57"/>
<rect x="1021.7" y="1657.9" width="6.8" height="6.8" rx="1.2" fill="#d6d3c2" opacity="0.67"/>
<rect x="950.6" y="1744.5" width="6.8" height="6.8" rx="1.2" fill="#d6d3c2" opacity="0.56"/>
<rect x="1037.9" y="1626.8" width="5.2" height="5.2" rx="1.2" fill="#d6d3c2" opacity="0.65"/>
<rect x="1072.1" y="1603.0" width="5.2" height="5.2" rx="1.2" fill="#d6d3c2" opacity="0.76"/>
<rect x="1004.4" y="1579.9" width="4.4" height="4.4" rx="1.2" fill="#d6d3c2" opacity="0.77"/>
<rect x="893.0" y="1561.6" width="6.0" height="6.0" rx="1.2" fill="#d6d3c2" opacity="0.60"/>
<rect x="1044.6" y="1695.9" width="6.0" height="6.0" rx="1.2" fill="#d6d3c2" opacity="0.63"/>
<rect x="957.1" y="1566.5" width="6.0" height="6.0" rx="1.2" fill="#d6d3c2" opacity="0.57"/>
<rect x="901.9" y="1739.0" width="5.2" height="5.2" rx="1.2" fill="#d6d3c2" opacity="0.57"/>
<rect x="949.3" y="1600.2" width="5.2" height="5.2" rx="1.2" fill="#d6d3c2" opacity="0.55"/>
<rect x="1026.4" y="1732.6" width="5.2" height="5.2" rx="1.2" fill="#d6d3c2" opacity="0.61"/>
<rect x="1057.2" y="1635.4" width="6.8" height="6.8" rx="1.2" fill="#d6d3c2" opacity="0.59"/>
<rect x="967.6" y="1658.2" width="5.2" height="5.2" rx="1.2" fill="#d6d3c2" opacity="0.68"/>
<rect x="1038.5" y="1729.9" width="5.2" height="5.2" rx="1.2" fill="#d6d3c2" opacity="0.73"/>
<rect x="906.4" y="1711.3" width="4.4" height="4.4" rx="1.2" fill="#d6d3c2" opacity="0.73"/>
<rect x="854.8" y="1592.6" width="4.4" height="4.4" rx="1.2" fill="#d6d3c2" opacity="0.54"/>
<rect x="939.7" y="1644.7" width="6.8" height="6.8" rx="1.2" fill="#d6d3c2" opacity="0.81"/>
<rect x="907.6" y="1666.3" width="5.2" height="5.2" rx="1.2" fill="#d6d3c2" opacity="0.79"/>
<rect x="1068.8" y="1650.1" width="6.0" height="6.0" rx="1.2" fill="#d6d3c2" opacity="0.51"/>
<rect x="942.5" y="1561.1" width="6.0" height="6.0" rx="1.2" fill="#d6d3c2" opacity="0.58"/>
<rect x="856.9" y="1609.7" width="4.4" height="4.4" rx="1.2" fill="#d6d3c2" opacity="0.57"/>
<rect x="1028.4" y="1607.1" width="5.2" height="5.2" rx="1.2" fill="#d6d3c2" opacity="0.83"/>
<rect x="889.4" y="1593.4" width="6.0" height="6.0" rx="1.2" fill="#d6d3c2" opacity="0.68"/>
<rect x="837.2" y="1663.5" width="5.2" height="5.2" rx="1.2" fill="#d6d3c2" opacity="0.66"/>
<rect x="920.3" y="1543.3" width="6.0" height="6.0" rx="1.2" fill="#d6d3c2" opacity="0.77"/>
<rect x="1017.4" y="1627.1" width="4.4" height="4.4" rx="1.2" fill="#d6d3c2" opacity="0.54"/>
<rect x="1017.0" y="1701.4" width="6.0" height="6.0" rx="1.2" fill="#d6d3c2" opacity="0.58"/>
<rect x="982.1" y="1539.0" width="6.0" height="6.0" rx="1.2" fill="#d6d3c2" opacity="0.62"/>
<rect x="932.5" y="1610.9" width="4.4" height="4.4" rx="1.2" fill="#d6d3c2" opacity="0.57"/>
<rect x="1048.2" y="1570.1" width="6.0" height="6.0" rx="1.2" fill="#d6d3c2" opacity="0.51"/>
<rect x="980.6" y="1760.2" width="5.2" height="5.2" rx="1.2" fill="#d6d3c2" opacity="0.79"/>
<rect x="980.6" y="1709.8" width="6.0" height="6.0" rx="1.2" fill="#d6d3c2" opacity="0.64"/>
<rect x="954.0" y="1631.4" width="6.0" height="6.0" rx="1.2" fill="#d6d3c2" opacity="0.56"/>
<rect x="878.7" y="1621.6" width="6.0" height="6.0" rx="1.2" fill="#d6d3c2" opacity="0.53"/>
<rect x="1072.0" y="1694.0" width="4.4" height="4.4" rx="1.2" fill="#d6d3c2" opacity="0.78"/>
<rect x="950.8" y="1688.9" width="6.8" height="6.8" rx="1.2" fill="#d6d3c2" opacity="0.52"/>
<rect x="1057.9" y="1702.8" width="4.4" height="4.4" rx="1.2" fill="#d6d3c2" opacity="0.78"/>
<rect x="897.2" y="1638.3" width="5.2" height="5.2" rx="1.2" fill="#d6d3c2" opacity="0.72"/>
<rect x="931.6" y="1708.2" width="4.4" height="4.4" rx="1.2" fill="#d6d3c2" opacity="0.73"/>
<rect x="960.6" y="1584.1" width="6.8" height="6.8" rx="1.2" fill="#d6d3c2" opacity="0.74"/>
<rect x="946.9" y="1660.0" width="6.8" height="6.8" rx="1.2" fill="#d6d3c2" opacity="0.85"/>
<rect x="994.4" y="1632.2" width="6.0" height="6.0" rx="1.2" fill="#d6d3c2" opacity="0.65"/>
<rect x="992.3" y="1578.4" width="4.4" height="4.4" rx="1.2" fill="#d6d3c2" opacity="0.61"/>
<rect x="842.8" y="1650.9" width="6.0" height="6.0" rx="1.2" fill="#d6d3c2" opacity="0.64"/>
<rect x="910.5" y="1540.9" width="4.4" height="4.4" rx="1.2" fill="#d6d3c2" opacity="0.80"/>
<rect x="944.7" y="1704.0" width="6.0" height="6.0" rx="1.2" fill="#d6d3c2" opacity="0.73"/>
<rect x="946.4" y="1761.6" width="6.8" height="6.8" rx="1.2" fill="#d6d3c2" opacity="0.75"/>
<rect x="961.7" y="1763.0" width="5.2" height="5.2" rx="1.2" fill="#d6d3c2" opacity="0.83"/>
<rect x="983.5" y="1726.4" width="6.8" height="6.8" rx="1.2" fill="#d6d3c2" opacity="0.82"/>
<rect x="878.4" y="1603.4" width="6.8" height="6.8" rx="1.2" fill="#d6d3c2" opacity="0.54"/>
<rect x="932.9" y="1540.9" width="4.4" height="4.4" rx="1.2" fill="#d6d3c2" opacity="0.64"/>
<rect x="1067.0" y="1676.6" width="6.0" height="6.0" rx="1.2" fill="#d6d3c2" opacity="0.66"/>
<rect x="1034.5" y="1589.6" width="5.2" height="5.2" rx="1.2" fill="#d6d3c2" opacity="0.55"/>
<rect x="946.4" y="1543.2" width="4.4" height="4.4" rx="1.2" fill="#d6d3c2" opacity="0.69"/>
<rect x="959.4" y="1667.6" width="6.8" height="6.8" rx="1.2" fill="#d6d3c2" opacity="0.53"/>
<rect x="1047.4" y="1713.1" width="6.0" height="6.0" rx="1.2" fill="#d6d3c2" opacity="0.76"/>
<rect x="885.0" y="1579.0" width="5.2" height="5.2" rx="1.2" fill="#d6d3c2" opacity="0.55"/>
<rect x="949.1" y="1532.0" width="6.0" height="6.0" rx="1.2" fill="#d6d3c2" opacity="0.56"/>
<rect x="880.1" y="1650.7" width="5.2" height="5.2" rx="1.2" fill="#d6d3c2" opacity="0.82"/>
<rect x="908.8" y="1562.3" width="4.4" height="4.4" rx="1.2" fill="#d6d3c2" opacity="0.63"/>
<rect x="927.0" y="1591.5" width="5.2" height="5.2" rx="1.2" fill="#d6d3c2" opacity="0.61"/>
<rect x="873.0" y="1640.0" width="4.4" height="4.4" rx="1.2" fill="#d6d3c2" opacity="0.84"/>
<rect x="914.5" y="1655.6" width="6.8" height="6.8" rx="1.2" fill="#d6d3c2" opacity="0.61"/>
<rect x="1000.4" y="1614.7" width="6.8" height="6.8" rx="1.2" fill="#d6d3c2" opacity="0.53"/>
<rect x="1077.3" y="1632.4" width="5.2" height="5.2" rx="1.2" fill="#d6d3c2" opacity="0.72"/>
<rect x="1003.9" y="1701.0" width="5.2" height="5.2" rx="1.2" fill="#d6d3c2" opacity="0.72"/>
<rect x="1051.9" y="1603.8" width="5.2" height="5.2" rx="1.2" fill="#d6d3c2" opacity="0.79"/>
<rect x="1012.3" y="1611.3" width="5.2" height="5.2" rx="1.2" fill="#d6d3c2" opacity="0.70"/>
<rect x="1053.8" y="1647.6" width="4.4" height="4.4" rx="1.2" fill="#d6d3c2" opacity="0.64"/>
<rect x="930.5" y="1758.4" width="5.2" height="5.2" rx="1.2" fill="#d6d3c2" opacity="0.63"/>
<rect x="872.2" y="1730.2" width="4.4" height="4.4" rx="1.2" fill="#d6d3c2" opacity="0.55"/>
<rect x="1043.7" y="1616.3" width="5.2" height="5.2" rx="1.2" fill="#d6d3c2" opacity="0.51"/>
<rect x="1020.9" y="1639.4" width="4.4" height="4.4" rx="1.2" fill="#d6d3c2" opacity="0.73"/>
<rect x="1060.8" y="1582.5" width="6.0" height="6.0" rx="1.2" fill="#d6d3c2" opacity="0.54"/>
<rect x="969.9" y="1680.1" width="6.8" height="6.8" rx="1.2" fill="#d6d3c2" opacity="0.69"/>
<rect x="961.3" y="1706.9" width="6.0" height="6.0" rx="1.2" fill="#d6d3c2" opacity="0.73"/>
<rect x="879.4" y="1691.2" width="6.0" height="6.0" rx="1.2" fill="#d6d3c2" opacity="0.70"/>
<rect x="1067.0" y="1616.3" width="6.8" height="6.8" rx="1.2" fill="#d6d3c2" opacity="0.64"/>
<rect x="969.9" y="1635.1" width="6.0" height="6.0" rx="1.2" fill="#d6d3c2" opacity="0.66"/>
<rect x="955.2" y="1646.3" width="6.8" height="6.8" rx="1.2" fill="#d6d3c2" opacity="0.56"/>
<rect x="912.7" y="1684.1" width="4.4" height="4.4" rx="1.2" fill="#d6d3c2" opacity="0.72"/>
<rect x="929.6" y="1722.5" width="6.8" height="6.8" rx="1.2" fill="#d6d3c2" opacity="0.66"/>
<rect x="1020.8" y="1593.2" width="6.8" height="6.8" rx="1.2" fill="#d6d3c2" opacity="0.77"/>
<rect x="853.9" y="1648.1" width="6.8" height="6.8" rx="1.2" fill="#d6d3c2" opacity="0.79"/>
<rect x="901.0" y="1675.7" width="6.8" height="6.8" rx="1.2" fill="#d6d3c2" opacity="0.64"/>
</g><g filter="url(#soft)">
</g>
<g filter="url(#softT)">
<text transform="translate(165.45,869.30) scale(0.5119,0.5037)" font-family='"Liberation Serif", serif' font-size="100" font-weight="bold" font-style="normal" fill="#0a0a0a">0</text>
<text transform="translate(141.52,720.90) scale(0.4946,0.5037)" font-family='"Liberation Serif", serif' font-size="100" font-weight="bold" font-style="normal" fill="#0a0a0a">20</text>
<text transform="translate(142.78,572.50) scale(0.4815,0.5037)" font-family='"Liberation Serif", serif' font-size="100" font-weight="bold" font-style="normal" fill="#0a0a0a">40</text>
<text transform="translate(141.78,424.10) scale(0.4919,0.5037)" font-family='"Liberation Serif", serif' font-size="100" font-weight="bold" font-style="normal" fill="#0a0a0a">60</text>
<text transform="translate(141.78,275.70) scale(0.4919,0.5037)" font-family='"Liberation Serif", serif' font-size="100" font-weight="bold" font-style="normal" fill="#0a0a0a">80</text>
<text transform="translate(117.59,127.30) scale(0.4891,0.5037)" font-family='"Liberation Serif", serif' font-size="100" font-weight="bold" font-style="normal" fill="#0a0a0a">100</text>
<text transform="translate(242.26,914.72) scale(0.4484,0.4780)" font-family='"Liberation Serif", serif' font-size="100" font-weight="bold" font-style="normal" fill="#0a0a0a">Control</text>
<text transform="translate(507.77,915.10) scale(0.5571,0.5007)" font-family='"Liberation Serif", serif' font-size="100" font-weight="bold" font-style="normal" fill="#0a0a0a">0</text>
<text transform="translate(712.07,915.09) scale(0.4824,0.5083)" font-family='"Liberation Serif", serif' font-size="100" font-weight="bold" font-style="normal" fill="#0a0a0a">5</text>
<text transform="translate(901.73,915.10) scale(0.5341,0.5007)" font-family='"Liberation Serif", serif' font-size="100" font-weight="bold" font-style="normal" fill="#0a0a0a">10</text>
<text transform="translate(1106.06,915.10) scale(0.4927,0.5007)" font-family='"Liberation Serif", serif' font-size="100" font-weight="bold" font-style="normal" fill="#0a0a0a">15</text>
<text transform="translate(509.65,1005.20) scale(0.5708,0.6046)" font-family='"Liberation Serif", serif' font-size="100" font-weight="bold" font-style="normal" fill="#000">Cement-ZnO (%)</text>
<text transform="translate(89.60,687.85) rotate(-90) scale(0.6167,0.7137)" font-family='"Liberation Serif", serif' font-size="100" font-weight="normal" font-style="normal" fill="#000" stroke="#000" stroke-width="0.98" stroke-linejoin="round">Percent Survival</text>
<text transform="translate(665.29,105.20) scale(0.5868,0.5832)" font-family='"Liberation Serif", serif' font-size="100" font-weight="bold" font-style="italic" fill="#000">E.coli</text>
<text transform="translate(820.39,105.20) scale(0.5791,0.5771)" font-family='"Liberation Serif", serif' font-size="100" font-weight="bold" font-style="normal" fill="#000">(gram negative)</text>
<text transform="translate(1067.00,204.38) scale(0.9559,0.9407)" font-family='"Liberation Serif", serif' font-size="100" font-weight="normal" font-style="normal" fill="#000">(a)</text>
<text transform="translate(1421.95,866.50) scale(0.5119,0.4978)" font-family='"Liberation Serif", serif' font-size="100" font-weight="bold" font-style="normal" fill="#0a0a0a">0</text>
<text transform="translate(1401.67,719.50) scale(0.4565,0.4978)" font-family='"Liberation Serif", serif' font-size="100" font-weight="bold" font-style="normal" fill="#0a0a0a">20</text>
<text transform="translate(1402.83,572.50) scale(0.4444,0.4978)" font-family='"Liberation Serif", serif' font-size="100" font-weight="bold" font-style="normal" fill="#0a0a0a">40</text>
<text transform="translate(1401.91,425.50) scale(0.4541,0.4978)" font-family='"Liberation Serif", serif' font-size="100" font-weight="bold" font-style="normal" fill="#0a0a0a">60</text>
<text transform="translate(1401.91,278.50) scale(0.4541,0.4978)" font-family='"Liberation Serif", serif' font-size="100" font-weight="bold" font-style="normal" fill="#0a0a0a">80</text>
<text transform="translate(1380.43,131.50) scale(0.4457,0.4978)" font-family='"Liberation Serif", serif' font-size="100" font-weight="bold" font-style="normal" fill="#0a0a0a">100</text>
<text transform="translate(1494.40,917.61) scale(0.4191,0.4894)" font-family='"Liberation Serif", serif' font-size="100" font-weight="bold" font-style="normal" fill="#0a0a0a">Control</text>
<text transform="translate(1736.81,917.99) scale(0.5476,0.5111)" font-family='"Liberation Serif", serif' font-size="100" font-weight="bold" font-style="normal" fill="#0a0a0a">0</text>
<text transform="translate(1927.41,917.98) scale(0.5224,0.5188)" font-family='"Liberation Serif", serif' font-size="100" font-weight="bold" font-style="normal" fill="#0a0a0a">5</text>
<text transform="translate(2106.27,917.99) scale(0.4659,0.5111)" font-family='"Liberation Serif", serif' font-size="100" font-weight="bold" font-style="normal" fill="#0a0a0a">10</text>
<text transform="translate(2293.47,917.99) scale(0.4667,0.5111)" font-family='"Liberation Serif", serif' font-size="100" font-weight="bold" font-style="normal" fill="#0a0a0a">15</text>
<text transform="translate(1746.85,1005.40) scale(0.5303,0.6076)" font-family='"Liberation Serif", serif' font-size="100" font-weight="bold" font-style="normal" fill="#000">Cement-ZnO (%)</text>
<text transform="translate(1353.00,692.45) rotate(-90) scale(0.6175,0.6576)" font-family='"Liberation Serif", serif' font-size="100" font-weight="normal" font-style="normal" fill="#000" stroke="#000" stroke-width="1.06" stroke-linejoin="round">Percent Survival</text>
<text transform="translate(1840.05,109.30) scale(0.5527,0.5909)" font-family='"Liberation Serif", serif' font-size="100" font-weight="bold" font-style="italic" fill="#000">B.subtilis</text>
<text transform="translate(2051.07,109.60) scale(0.5389,0.5893)" font-family='"Liberation Serif", serif' font-size="100" font-weight="bold" font-style="normal" fill="#000">(gram positive)</text>
<text transform="translate(2304.81,204.38) scale(0.9306,0.9407)" font-family='"Liberation Serif", serif' font-size="100" font-weight="normal" font-style="normal" fill="#000">(b)</text>
<text transform="translate(2287.46,1113.40) scale(0.5587,0.6321)" font-family='"Liberation Serif", serif' font-size="100" font-weight="bold" font-style="normal" fill="#000">Dark</text>
<text transform="translate(2287.45,1189.46) scale(0.5689,0.6153)" font-family='"Liberation Serif", serif' font-size="100" font-weight="bold" font-style="normal" fill="#000">Light</text>
<text transform="translate(2326.77,1286.82) scale(0.9407,0.9385)" font-family='"Liberation Serif", serif' font-size="100" font-weight="normal" font-style="normal" fill="#000">(d)</text>
<text transform="translate(1377.97,1824.42) scale(0.5083,0.4817)" font-family='"Liberation Sans", sans-serif' font-size="100" font-weight="normal" font-style="normal" fill="#000" stroke="#000" stroke-width="3.32" stroke-linejoin="round">0</text>
<text transform="translate(1350.07,1687.62) scale(0.5054,0.4817)" font-family='"Liberation Sans", sans-serif' font-size="100" font-weight="normal" font-style="normal" fill="#000" stroke="#000" stroke-width="3.32" stroke-linejoin="round">20</text>
<text transform="translate(1351.62,1552.32) scale(0.4910,0.4817)" font-family='"Liberation Sans", sans-serif' font-size="100" font-weight="normal" font-style="normal" fill="#000" stroke="#000" stroke-width="3.32" stroke-linejoin="round">40</text>
<text transform="translate(1350.07,1416.42) scale(0.5054,0.4817)" font-family='"Liberation Sans", sans-serif' font-size="100" font-weight="normal" font-style="normal" fill="#000" stroke="#000" stroke-width="3.32" stroke-linejoin="round">60</text>
<text transform="translate(1350.34,1281.12) scale(0.5029,0.4817)" font-family='"Liberation Sans", sans-serif' font-size="100" font-weight="normal" font-style="normal" fill="#000" stroke="#000" stroke-width="3.32" stroke-linejoin="round">80</text>
<text transform="translate(1326.94,1144.12) scale(0.4752,0.4817)" font-family='"Liberation Sans", sans-serif' font-size="100" font-weight="normal" font-style="normal" fill="#000" stroke="#000" stroke-width="3.32" stroke-linejoin="round">100</text>
<text transform="translate(1526.29,1937.14) scale(0.4416,0.4624)" font-family='"Liberation Serif", serif' font-size="100" font-weight="bold" font-style="normal" fill="#0a0a0a">Control</text>
<text transform="translate(1919.81,1937.51) scale(0.5476,0.4889)" font-family='"Liberation Serif", serif' font-size="100" font-weight="bold" font-style="normal" fill="#0a0a0a">0</text>
<text transform="translate(2246.27,1937.51) scale(0.4667,0.4889)" font-family='"Liberation Serif", serif' font-size="100" font-weight="bold" font-style="normal" fill="#0a0a0a">15</text>
<text transform="translate(1719.69,2026.20) scale(0.5621,0.5863)" font-family='"Liberation Serif", serif' font-size="100" font-weight="bold" font-style="normal" fill="#000">Cement-ZnO (%)</text>
<text transform="translate(1296.50,1716.67) rotate(-90) scale(0.6224,0.7223)" font-family='"Liberation Serif", serif' font-size="100" font-weight="normal" font-style="normal" fill="#000" stroke="#000" stroke-width="0.97" stroke-linejoin="round">Percent survival</text>
<text transform="translate(594.01,1091.40) scale(0.3467,0.4030)" font-family='"Liberation Serif", serif' font-size="100" font-weight="normal" font-style="normal" fill="#383838" stroke="#383838" stroke-width="3.72" stroke-linejoin="round">Under Dark</text>
<text transform="translate(611.82,1480.05) scale(0.3421,0.3604)" font-family='"Liberation Serif", serif' font-size="100" font-weight="normal" font-style="normal" fill="#383838" stroke="#383838" stroke-width="4.16" stroke-linejoin="round">Under Light</text>
<text transform="translate(311.30,1422.46) scale(0.3007,0.3390)" font-family='"Liberation Serif", serif' font-size="100" font-weight="normal" font-style="normal" fill="#2e2e2e" stroke="#2e2e2e" stroke-width="4.72" stroke-linejoin="round">Control</text>
<text transform="translate(543.32,1422.80) scale(0.2942,0.3634)" font-family='"Liberation Serif", serif' font-size="100" font-weight="normal" font-style="normal" fill="#2e2e2e" stroke="#2e2e2e" stroke-width="4.40" stroke-linejoin="round">Cement -ZnO (0%)</text>
<text transform="translate(850.13,1422.80) scale(0.2931,0.3634)" font-family='"Liberation Serif", serif' font-size="100" font-weight="normal" font-style="normal" fill="#2e2e2e" stroke="#2e2e2e" stroke-width="4.40" stroke-linejoin="round">Cement -ZnO (15%)</text>
<text transform="translate(337.90,1801.86) scale(0.3007,0.3376)" font-family='"Liberation Serif", serif' font-size="100" font-weight="normal" font-style="normal" fill="#2e2e2e" stroke="#2e2e2e" stroke-width="4.74" stroke-linejoin="round">Control</text>
<text transform="translate(584.73,1802.80) scale(0.2923,0.3328)" font-family='"Liberation Serif", serif' font-size="100" font-weight="normal" font-style="normal" fill="#2e2e2e" stroke="#2e2e2e" stroke-width="4.81" stroke-linejoin="round">Cement -ZnO (0%)</text>
<text transform="translate(846.63,1802.80) scale(0.2927,0.3328)" font-family='"Liberation Serif", serif' font-size="100" font-weight="normal" font-style="normal" fill="#2e2e2e" stroke="#2e2e2e" stroke-width="4.81" stroke-linejoin="round">Cement -ZnO (15%)</text>
<text transform="translate(1052.66,1127.75) scale(0.9647,0.9604)" font-family='"Liberation Serif", serif' font-size="100" font-weight="normal" font-style="normal" fill="#000">(c)</text>
</g>
</svg>
</body></html>
